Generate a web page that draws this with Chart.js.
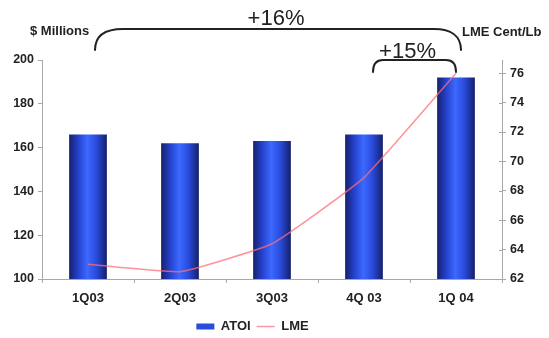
<!DOCTYPE html>
<html>
<head>
<meta charset="utf-8">
<script src="https://cdn.jsdelivr.net/npm/chart.js@4/dist/chart.umd.min.js"></script>
<style>
  html, body { margin: 0; padding: 0; background: #ffffff; }
  #wrap { width: 549px; height: 338px; position: relative; }
</style>
</head>
<body>
<div id="wrap"><canvas id="chart"></canvas></div>
<script>
// Quarterly ATOI ($ millions) against the LME aluminium price (cents per pound)
const quarters = ['1Q03', '2Q03', '3Q03', '4Q 03', '1Q 04'];
const atoi = [166, 162, 163, 166, 192];
const lme = [63.0, 62.5, 64.4, 68.9, 76.0];
const leftTicks = [100, 120, 140, 160, 180, 200];
const rightTicks = [62, 64, 66, 68, 70, 72, 74, 76];
const growthLabels = ['+16%', '+15%'];

const FONT = "'Liberation Sans', Arial, sans-serif";
const AXIS_GREY = '#a8a8a8';
const INK = '#222222';

// Bar fill: dark navy edges with a bright blue core
function barFill(context) {
  const chart = context.chart;
  const area = chart.chartArea;
  if (!area || !chart.scales.x) return '#2c4fe0';
  const x = chart.scales.x.getPixelForValue(context.dataIndex);
  const w = (area.width / quarters.length) * 0.41;
  const g = chart.ctx.createLinearGradient(x - w / 2, 0, x + w / 2, 0);
  g.addColorStop(0, '#15216c');
  g.addColorStop(0.25, '#2643cf');
  g.addColorStop(0.48, '#3b69ff');
  g.addColorStop(0.72, '#2a4bdc');
  g.addColorStop(1, '#14206a');
  return g;
}

// Headings, growth brackets and inner ticks of the price axis
const decorations = {
  id: 'decorations',
  afterLayout(chart) {
    const lg = chart.legend;
    if (lg) { lg.left -= 22; lg.right -= 22; lg.top += 5; lg.bottom += 5; }
  },
  afterDraw(chart) {
    const ctx = chart.ctx;
    const xs = chart.scales.x;
    const yr = chart.scales.yRight;
    ctx.save();

    // small marks inside the right axis
    ctx.strokeStyle = AXIS_GREY;
    ctx.lineWidth = 1;
    rightTicks.forEach(v => {
      const y = Math.round(yr.getPixelForValue(v)) + 0.5;
      ctx.beginPath();
      ctx.moveTo(yr.left - 3, y);
      ctx.lineTo(yr.left, y);
      ctx.stroke();
    });

    ctx.fillStyle = INK;
    ctx.textBaseline = 'alphabetic';
    ctx.font = 'bold 13px ' + FONT;
    ctx.textAlign = 'left';
    ctx.fillText('$ Millions', 30, 35);
    ctx.fillText('LME Cent/Lb', 462, 36);

    ctx.strokeStyle = INK;
    ctx.lineWidth = 2;
    ctx.lineCap = 'round';

    // wide bracket: first quarter to latest quarter
    const a0 = xs.getPixelForValue(0) + 7;
    const a1 = xs.getPixelForValue(4) + 5;
    ctx.beginPath();
    ctx.moveTo(a0, 50);
    ctx.bezierCurveTo(a0, 36, a0 + 10, 29, a0 + 28, 29);
    ctx.lineTo(a1 - 27, 29);
    ctx.bezierCurveTo(a1 - 10, 29, a1, 36, a1, 50);
    ctx.stroke();

    // narrow bracket: last two quarters
    const b0 = xs.getPixelForValue(3) + 9;
    const b1 = xs.getPixelForValue(4);
    ctx.beginPath();
    ctx.moveTo(b0, 72);
    ctx.bezierCurveTo(b0, 64, b0 + 3, 60, b0 + 10, 60);
    ctx.lineTo(b1 - 10, 60);
    ctx.bezierCurveTo(b1 - 3, 60, b1, 64, b1, 72);
    ctx.stroke();

    ctx.font = '22px ' + FONT;
    ctx.textAlign = 'center';
    ctx.fillText(growthLabels[0], (a0 + a1) / 2 - 2, 25);
    ctx.fillText(growthLabels[1], (b0 + b1) / 2 - 7, 58);
    ctx.restore();
  }
};

new Chart(document.getElementById('chart'), {
  type: 'bar',
  data: {
    labels: quarters,
    datasets: [
      {
        type: 'bar',
        label: 'ATOI',
        data: atoi,
        yAxisID: 'y',
        order: 1,
        backgroundColor: barFill,
        borderWidth: 0,
        barPercentage: 0.41,
        categoryPercentage: 1.0
      },
      {
        type: 'line',
        label: 'LME',
        data: lme,
        yAxisID: 'yRight',
        order: 0,
        borderColor: 'rgba(255, 110, 120, 0.75)',
        backgroundColor: 'rgba(255, 110, 120, 0.75)',
        borderWidth: 1.5,
        pointRadius: 0,
        pointHoverRadius: 0,
        tension: 0.12,
        fill: false
      }
    ]
  },
  options: {
    responsive: true,
    maintainAspectRatio: false,
    animation: false,
    layout: { padding: { top: 60, left: 0, right: 0, bottom: 0 } },
    plugins: {
      tooltip: { enabled: false },
      title: { display: false },
      legend: {
        display: true,
        position: 'bottom',
        align: 'center',
        labels: {
          usePointStyle: true,
          pointStyleWidth: 18,
          boxHeight: 6,
          padding: 6,
          color: INK,
          font: { family: FONT, size: 13, weight: 'bold' },
          generateLabels(chart) {
            return chart.data.datasets.map((ds, i) => ({
              text: ds.label,
              datasetIndex: i,
              fillStyle: i === 0 ? '#2b4ddc' : 'rgba(255, 140, 150, 0.9)',
              strokeStyle: i === 0 ? '#2b4ddc' : 'rgba(255, 140, 150, 0.9)',
              lineWidth: i === 0 ? 0 : 1.5,
              pointStyle: i === 0 ? 'rect' : 'line',
              fontColor: INK,
              hidden: false
            }));
          }
        }
      }
    },
    scales: {
      x: {
        type: 'category',
        offset: true,
        afterFit(scale) { scale.height = 30; },
        grid: {
          display: true,
          offset: true,
          drawOnChartArea: false,
          drawTicks: true,
          tickLength: 4,
          color: AXIS_GREY
        },
        border: { display: true, color: AXIS_GREY, width: 1 },
        ticks: {
          color: INK,
          padding: 8,
          maxRotation: 0,
          font: { family: FONT, size: 13, weight: 'bold' }
        }
      },
      y: {
        type: 'linear',
        position: 'left',
        min: 100,
        max: 200,
        afterFit(scale) { scale.width = 42; },
        afterBuildTicks(scale) { scale.ticks = leftTicks.map(v => ({ value: v })); },
        grid: {
          display: true,
          drawOnChartArea: false,
          drawTicks: true,
          tickLength: 4,
          color: AXIS_GREY
        },
        border: { display: true, color: AXIS_GREY, width: 1 },
        ticks: {
          color: INK,
          padding: 4,
          font: { family: FONT, size: 12.5, weight: 'bold' }
        }
      },
      yRight: {
        type: 'linear',
        position: 'right',
        min: 62,
        max: 76.9,
        afterFit(scale) { scale.width = 47; },
        afterBuildTicks(scale) { scale.ticks = rightTicks.map(v => ({ value: v })); },
        grid: {
          display: true,
          drawOnChartArea: false,
          drawTicks: true,
          tickLength: 4,
          color: AXIS_GREY
        },
        border: { display: true, color: AXIS_GREY, width: 1 },
        ticks: {
          color: INK,
          padding: 4,
          font: { family: FONT, size: 12.5, weight: 'bold' }
        }
      }
    }
  },
  plugins: [decorations]
});
</script>
</body>
</html>
